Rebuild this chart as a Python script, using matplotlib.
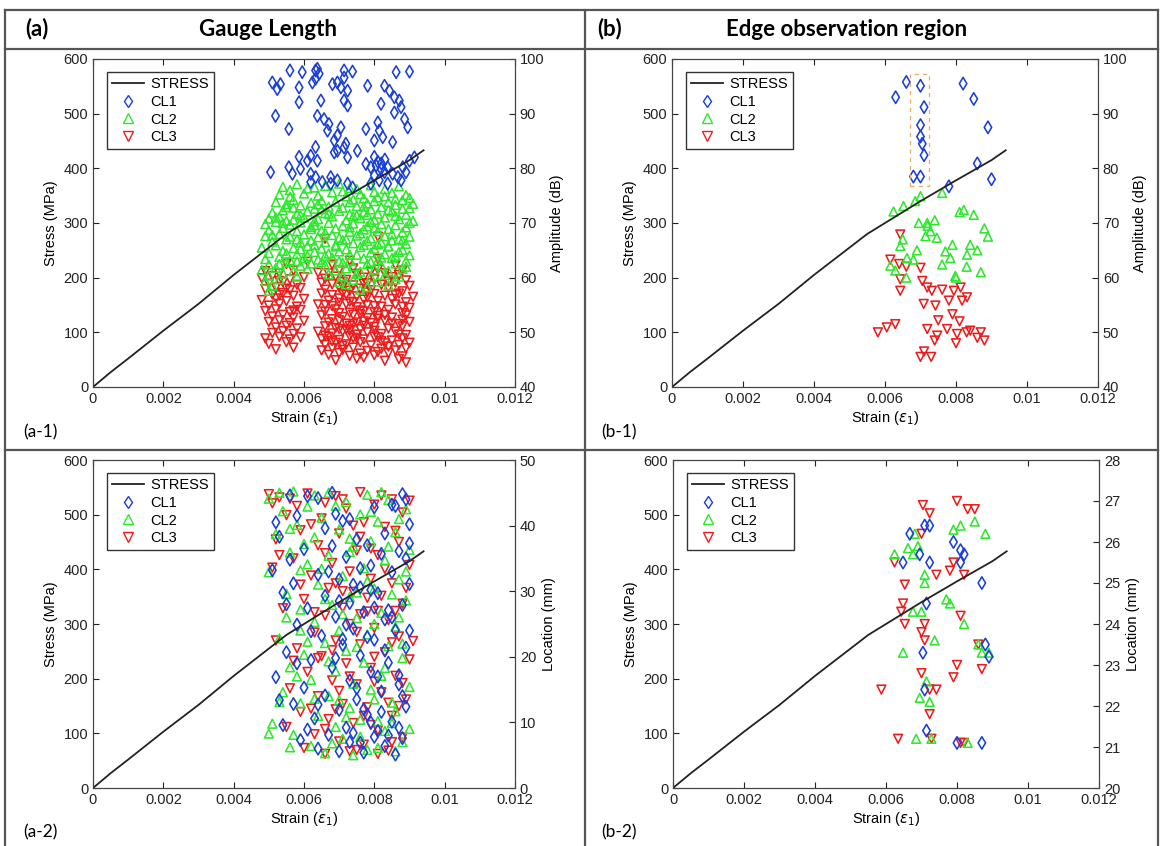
import matplotlib
import numpy as np
import matplotlib.pyplot as plt
from matplotlib.lines import Line2D
from matplotlib.patches import Rectangle

matplotlib.use('Agg')
plt.rcParams['font.family'] = ['Liberation Sans', 'DejaVu Sans']

# stress-strain curve (same in all panels)
strain_curve = [0, 0.0005, 0.001, 0.002, 0.003, 0.004, 0.005, 0.0055, 0.0058, 0.006, 0.007, 0.008, 0.009, 0.0094]
stress_curve = [0, 27, 52, 103, 152, 205, 255, 280, 292, 300, 340, 378, 415, 433]

xticks = [0, 0.002, 0.004, 0.006, 0.008, 0.01, 0.012]
xticklabels = ['0', '0.002', '0.004', '0.006', '0.008', '0.01', '0.012']

# (a-1) gauge length, amplitude (dB)
a1_cl1 = [(0.0056, 97.9), (0.00595, 97.6), (0.00633, 97.9), (0.00638, 98.2), (0.00643, 97.3), (0.00714, 97.9),
          (0.00738, 97.7), (0.00862, 97.6), (0.0090, 97.7), (0.00633, 96.4), (0.00714, 96.6), (0.0051, 95.7),
          (0.00533, 95.4), (0.00524, 94.5), (0.00586, 94.8), (0.00624, 95.7), (0.00681, 95.4), (0.00695, 95.7),
          (0.00705, 94.8), (0.00724, 94.2), (0.00781, 95.1), (0.00829, 95.1), (0.00843, 94.2), (0.00857, 93.0),
          (0.00871, 92.4), (0.00876, 91.2), (0.00714, 92.4), (0.00724, 91.5), (0.00648, 92.4), (0.00586, 92.1),
          (0.00819, 91.8), (0.00857, 90.2), (0.00886, 89.0), (0.00895, 87.5), (0.00519, 89.6), (0.00557, 87.2),
          (0.00638, 89.6), (0.00657, 89.0), (0.00671, 88.1), (0.00667, 86.9), (0.00705, 87.5), (0.00695, 86.0),
          (0.00686, 85.1), (0.00776, 87.2), (0.0081, 88.4), (0.00814, 86.9), (0.00824, 85.7), (0.0080, 85.1),
          (0.00852, 84.8), (0.00719, 84.5), (0.00633, 83.9), (0.00586, 82.1), (0.0061, 81.4), (0.00619, 82.3),
          (0.00638, 81.4), (0.00686, 82.9), (0.00695, 83.2), (0.00714, 83.8), (0.00724, 82.0), (0.00752, 83.2),
          (0.00557, 80.2), (0.0059, 79.9), (0.00505, 79.3), (0.00567, 79.0), (0.00619, 79.0), (0.00633, 78.4),
          (0.00652, 77.5), (0.00676, 78.4), (0.00695, 77.8), (0.00724, 77.2), (0.00776, 80.8), (0.0079, 80.2),
          (0.00805, 80.5), (0.00819, 79.9), (0.00829, 79.3), (0.00838, 80.2), (0.00852, 79.0), (0.00867, 78.4),
          (0.00881, 80.2), (0.0089, 79.3), (0.0090, 81.4), (0.00914, 82.0), (0.0080, 78.7), (0.00814, 77.8),
          (0.0079, 77.2), (0.00838, 77.2), (0.00876, 77.8), (0.00738, 76.5), (0.00619, 77.5), (0.00676, 77.2),
          (0.0081, 81.2), (0.0082, 80.9), (0.0083, 81.6), (0.0080, 82.1)]
a1_cl2 = [(0.0054, 76.6), (0.0058, 77.1), (0.0061, 76.3), (0.0066, 76.8), (0.0070, 77.2), (0.0073, 76.4), (0.0079, 76.9),
          (0.0083, 76.2), (0.0087, 76.7), (0.0053, 75.2), (0.0056, 74.8), (0.0060, 75.4), (0.0064, 75.0), (0.0068, 75.6),
          (0.0072, 74.9), (0.0076, 75.3), (0.0081, 74.7), (0.0085, 75.5), (0.0089, 75.1), (0.0052, 73.8), (0.0057, 74.2),
          (0.0062, 73.7), (0.0065, 74.1), (0.0069, 73.9), (0.0074, 74.3), (0.0078, 73.6), (0.0080, 74.0), (0.0084, 73.8),
          (0.0088, 74.2), (0.0091, 73.5), (0.0055, 72.9), (0.0059, 73.2), (0.0063, 72.6), (0.0067, 73.0), (0.0071, 72.8),
          (0.0075, 73.1), (0.0079, 72.5), (0.0082, 72.9), (0.0086, 73.3), (0.0090, 72.7), (0.0051, 71.9), (0.0054, 72.3),
          (0.0058, 71.7), (0.0061, 72.1), (0.0066, 71.8), (0.0070, 72.2), (0.0073, 71.6), (0.0077, 72.0), (0.0081, 71.7),
          (0.0085, 72.1), (0.0089, 71.5), (0.0050, 70.8), (0.0053, 71.1), (0.0057, 70.6), (0.0060, 71.0), (0.0064, 70.7),
          (0.0068, 71.2), (0.0072, 70.5), (0.0076, 70.9), (0.0080, 70.6), (0.0083, 71.0), (0.0087, 70.7), (0.0091, 70.4),
          (0.0049, 69.8), (0.0052, 70.2), (0.0056, 69.7), (0.0059, 70.1), (0.0063, 69.6), (0.0067, 70.0), (0.0071, 69.5),
          (0.0074, 69.9), (0.0078, 69.4), (0.0082, 69.8), (0.0086, 69.6), (0.0090, 70.0), (0.0050, 68.7), (0.0054, 69.1),
          (0.0058, 68.5), (0.0062, 68.9), (0.0065, 68.6), (0.0069, 69.0), (0.0073, 68.4), (0.0077, 68.8), (0.0081, 68.5),
          (0.0084, 68.9), (0.0088, 68.3), (0.0049, 67.6), (0.0053, 68.0), (0.0056, 67.5), (0.0060, 67.9), (0.0064, 67.4),
          (0.0068, 67.8), (0.0070, 67.3), (0.0075, 67.7), (0.0079, 67.2), (0.0083, 67.6), (0.0087, 67.1), (0.0090, 67.5),
          (0.0051, 66.6), (0.0055, 67.0), (0.0059, 66.4), (0.0062, 66.8), (0.0066, 66.5), (0.0071, 66.9), (0.0074, 66.3),
          (0.0078, 66.7), (0.0082, 66.4), (0.0085, 66.8), (0.0089, 66.2), (0.0048, 65.5), (0.0052, 65.9), (0.0057, 65.4),
          (0.0061, 65.8), (0.0065, 65.3), (0.0069, 65.7), (0.0072, 65.2), (0.0076, 65.6), (0.0080, 65.3), (0.0084, 65.7),
          (0.0088, 65.1), (0.0050, 64.5), (0.0054, 64.9), (0.0058, 64.3), (0.0063, 64.7), (0.0067, 64.4), (0.0070, 64.8),
          (0.0075, 64.2), (0.0079, 64.6), (0.0083, 64.3), (0.0087, 64.7), (0.0090, 64.1), (0.0049, 63.4), (0.0053, 63.8),
          (0.0056, 63.2), (0.0060, 63.6), (0.0064, 63.3), (0.0068, 63.7), (0.0073, 63.1), (0.0077, 63.5), (0.0081, 63.2),
          (0.0085, 63.6), (0.0089, 63.0), (0.0050, 62.4), (0.0055, 62.8), (0.0059, 62.2), (0.0062, 62.6), (0.0066, 62.3),
          (0.0071, 62.7), (0.0074, 62.1), (0.0078, 62.5), (0.0082, 62.2), (0.0086, 62.6), (0.0048, 61.4), (0.0052, 61.8),
          (0.0057, 61.2), (0.0061, 61.6), (0.0069, 61.3), (0.0072, 61.7), (0.0076, 61.1), (0.0080, 61.5), (0.0084, 61.2),
          (0.0088, 61.6), (0.0050, 60.4), (0.0054, 60.8), (0.0058, 60.2), (0.0067, 60.6), (0.0071, 60.3), (0.0075, 60.7),
          (0.0079, 60.1), (0.0083, 60.5), (0.0087, 60.2), (0.0049, 59.4), (0.0053, 59.7), (0.0070, 59.2), (0.0074, 59.6),
          (0.0081, 59.3), (0.0086, 59.7), (0.0051, 58.5), (0.0072, 58.8), (0.0078, 58.3), (0.0084, 58.6), (0.0050, 57.6),
          (0.0076, 57.8), (0.0063, 70.3), (0.0065, 72.5), (0.0069, 66.0), (0.0073, 69.2), (0.0077, 74.5), (0.0081, 66.1),
          (0.0085, 68.0), (0.0057, 72.8), (0.0055, 70.4), (0.0061, 64.0), (0.0075, 71.4), (0.0079, 70.2), (0.0083, 74.9),
          (0.0056, 76.0), (0.0063, 76.5), (0.0071, 75.8), (0.0075, 76.2), (0.0080, 75.7), (0.0086, 74.4), (0.0090, 74.6),
          (0.0055, 73.5), (0.0064, 73.4), (0.0073, 73.8), (0.0077, 73.0), (0.0084, 72.4), (0.0088, 72.6), (0.0052, 71.0),
          (0.0059, 71.4), (0.0067, 71.7), (0.0074, 71.2), (0.0078, 71.5), (0.0086, 71.3), (0.0054, 70.0), (0.0062, 69.3),
          (0.0066, 68.2), (0.0076, 68.1), (0.0080, 69.0), (0.0089, 69.2), (0.0051, 67.8), (0.0058, 67.0), (0.0063, 66.0),
          (0.0072, 67.0), (0.0077, 66.0), (0.0084, 65.8), (0.0088, 66.8), (0.0055, 64.4), (0.0059, 65.2), (0.0066, 64.0),
          (0.0073, 64.2), (0.0082, 63.7), (0.0086, 64.0), (0.0053, 62.5), (0.0058, 63.0), (0.0065, 62.8), (0.0070, 63.0),
          (0.0079, 62.9), (0.0089, 62.0)]
a1_cl3 = [(0.0055, 62.5), (0.0061, 62.9), (0.0068, 62.4), (0.0073, 63.1), (0.0086, 62.3), (0.0081, 63.4), (0.0066, 67.1),
          (0.0081, 67.5), (0.0049, 61.2), (0.0053, 60.8), (0.0057, 61.3), (0.0064, 60.9), (0.0070, 61.4), (0.0075, 60.7),
          (0.0079, 61.1), (0.0083, 60.8), (0.0088, 61.3), (0.0048, 59.9), (0.0051, 60.3), (0.0056, 59.7), (0.0060, 60.1),
          (0.0066, 59.8), (0.0069, 60.2), (0.0072, 59.6), (0.0077, 60.0), (0.0080, 59.7), (0.0085, 60.1), (0.0089, 59.5),
          (0.0050, 58.9), (0.0054, 59.2), (0.0058, 58.7), (0.0065, 59.1), (0.0068, 58.8), (0.0071, 59.2), (0.0074, 58.6),
          (0.0078, 59.0), (0.0082, 58.7), (0.0086, 59.1), (0.0090, 58.5), (0.0049, 57.9), (0.0052, 58.2), (0.0056, 57.7),
          (0.0059, 58.1), (0.0066, 57.8), (0.0070, 58.2), (0.0073, 57.6), (0.0076, 58.0), (0.0079, 57.7), (0.0084, 58.1),
          (0.0088, 57.5), (0.0051, 56.9), (0.0054, 57.2), (0.0057, 56.7), (0.0065, 57.1), (0.0068, 56.8), (0.0071, 57.2),
          (0.0075, 56.6), (0.0080, 57.0), (0.0083, 56.7), (0.0087, 57.1), (0.0091, 56.5), (0.0048, 55.9), (0.0052, 56.2),
          (0.0055, 55.7), (0.0060, 56.1), (0.0067, 55.8), (0.0070, 56.2), (0.0073, 55.6), (0.0077, 56.0), (0.0081, 55.7),
          (0.0085, 56.1), (0.0089, 55.5), (0.0050, 54.9), (0.0053, 55.2), (0.0058, 54.7), (0.0064, 55.1), (0.0068, 54.8),
          (0.0072, 55.2), (0.0075, 54.6), (0.0078, 55.0), (0.0082, 54.7), (0.0086, 55.1), (0.0090, 54.5), (0.0049, 53.9),
          (0.0052, 54.2), (0.0056, 53.7), (0.0059, 54.1), (0.0066, 53.8), (0.0069, 54.2), (0.0073, 53.6), (0.0076, 54.0),
          (0.0080, 53.7), (0.0084, 54.1), (0.0088, 53.5), (0.0051, 52.9), (0.0054, 53.2), (0.0057, 52.7), (0.0065, 53.1),
          (0.0071, 52.8), (0.0074, 53.2), (0.0078, 52.6), (0.0081, 53.0), (0.0085, 52.7), (0.0089, 53.1), (0.0050, 51.9),
          (0.0053, 52.2), (0.0056, 51.7), (0.0060, 52.1), (0.0067, 51.8), (0.0070, 52.2), (0.0072, 51.6), (0.0077, 52.0),
          (0.0079, 51.7), (0.0083, 52.1), (0.0087, 51.5), (0.0090, 51.9), (0.0052, 50.9), (0.0055, 51.2), (0.0058, 50.7),
          (0.0066, 51.1), (0.0069, 50.8), (0.0073, 51.2), (0.0076, 50.6), (0.0080, 51.0), (0.0084, 50.7), (0.0088, 51.1),
          (0.0051, 49.9), (0.0054, 50.2), (0.0057, 49.7), (0.0064, 50.1), (0.0068, 49.8), (0.0071, 50.2), (0.0075, 49.6),
          (0.0078, 50.0), (0.0082, 49.7), (0.0086, 50.1), (0.0089, 49.5), (0.0049, 48.9), (0.0053, 49.2), (0.0056, 48.7),
          (0.0059, 49.1), (0.0065, 48.8), (0.0067, 49.2), (0.0070, 48.6), (0.0074, 49.0), (0.0077, 48.7), (0.0081, 49.1),
          (0.0085, 48.5), (0.0088, 48.9), (0.0050, 47.9), (0.0055, 48.2), (0.0066, 47.7), (0.0069, 48.1), (0.0072, 47.8),
          (0.0076, 48.2), (0.0079, 47.6), (0.0083, 48.0), (0.0087, 47.7), (0.0090, 48.1), (0.0052, 46.9), (0.0057, 47.2),
          (0.0065, 46.7), (0.0068, 47.1), (0.0071, 46.8), (0.0074, 47.2), (0.0078, 46.6), (0.0082, 47.0), (0.0086, 46.7),
          (0.0089, 47.1), (0.0067, 45.9), (0.0070, 46.2), (0.0073, 45.7), (0.0076, 46.1), (0.0080, 45.8), (0.0084, 46.2),
          (0.0088, 45.6), (0.0069, 44.9), (0.0075, 45.2), (0.0083, 44.8), (0.0087, 45.1), (0.0089, 44.5), (0.0072, 50.5),
          (0.0074, 51.5), (0.0076, 53.3), (0.0070, 55.4), (0.0078, 57.3), (0.0080, 50.3), (0.0082, 48.4), (0.0073, 49.3),
          (0.0067, 60.8), (0.0074, 61.7), (0.0081, 61.5), (0.0087, 60.5), (0.0053, 59.4), (0.0071, 58.4), (0.0077, 58.9),
          (0.0084, 59.3), (0.0055, 58.0), (0.0072, 56.9), (0.0078, 56.4), (0.0086, 56.8), (0.0053, 56.8), (0.0066, 55.0),
          (0.0074, 55.5), (0.0080, 54.8), (0.0088, 54.7), (0.0057, 54.0), (0.0070, 53.5), (0.0077, 53.8), (0.0083, 53.2),
          (0.0068, 52.4), (0.0075, 51.8), (0.0081, 52.5), (0.0088, 52.3), (0.0070, 50.6), (0.0077, 51.2), (0.0085, 51.6),
          (0.0066, 49.4), (0.0073, 50.4), (0.0080, 49.2), (0.0087, 49.6), (0.0068, 48.4), (0.0075, 48.9), (0.0084, 47.4),
          (0.0071, 47.5), (0.0077, 45.4), (0.0081, 46.4)]

# (b-1) edge observation region, amplitude (dB)
b1_cl1 = [(0.0063, 93.0), (0.0066, 95.8), (0.0070, 95.1), (0.0071, 91.2), (0.0070, 87.9), (0.0070, 85.8), (0.00705, 84.5),
          (0.0071, 82.4), (0.0068, 78.5), (0.0070, 78.5), (0.0078, 76.7), (0.0082, 95.5), (0.0085, 92.7), (0.0086, 80.9),
          (0.0089, 87.5), (0.0090, 78.0)]
b1_cl2 = [(0.00624, 72.1), (0.00652, 73.1), (0.00685, 74.0), (0.0070, 74.9), (0.00761, 75.5), (0.00822, 72.4),
          (0.0085, 71.5), (0.00695, 70.0), (0.00719, 70.0), (0.00728, 68.5), (0.00746, 67.3), (0.00714, 67.6),
          (0.00643, 65.8), (0.00662, 63.6), (0.0068, 63.3), (0.0077, 64.8), (0.00784, 63.6), (0.00761, 62.4),
          (0.00831, 64.2), (0.0084, 66.0), (0.00615, 62.2), (0.00629, 61.3), (0.00798, 60.3), (0.0081, 72.0),
          (0.0088, 69.0), (0.0089, 67.5), (0.0086, 65.0), (0.0087, 61.0), (0.0074, 70.5), (0.0079, 66.0),
          (0.0069, 65.0), (0.0080, 60.0), (0.0066, 60.0), (0.0072, 69.5), (0.0083, 62.0), (0.0065, 67.0)]
b1_cl3 = [(0.00643, 67.9), (0.00615, 63.3), (0.0070, 61.8), (0.00643, 59.7), (0.00705, 59.4), (0.00719, 58.2),
          (0.00732, 57.6), (0.00761, 57.8), (0.00794, 57.6), (0.00813, 58.2), (0.00831, 56.4), (0.00643, 57.6),
          (0.00709, 55.2), (0.00742, 54.9), (0.0078, 55.8), (0.00817, 55.8), (0.0075, 52.2), (0.0079, 53.3),
          (0.00605, 50.9), (0.00629, 51.5), (0.00719, 50.6), (0.00747, 49.4), (0.00775, 50.6), (0.00803, 49.7),
          (0.0084, 50.3), (0.0058, 50.0), (0.0070, 45.5), (0.0071, 46.5), (0.0073, 45.5), (0.0074, 48.5),
          (0.0080, 48.0), (0.0083, 50.0), (0.0086, 49.0), (0.0087, 50.0), (0.0081, 52.0), (0.0066, 62.0),
          (0.0064, 62.5), (0.0088, 48.5)]

# (a-2) gauge length, location (mm)
a2_cl1 = [(0.0061, 44.5), (0.0064, 44.2), (0.0088, 44.8), (0.0089, 44.0), (0.0085, 43.2), (0.0080, 42.8), (0.0058, 41.5),
          (0.0071, 40.7), (0.0090, 40.2), (0.0066, 39.6), (0.0053, 38.3), (0.0075, 37.9), (0.0083, 38.8), (0.0060, 36.4),
          (0.0068, 36.9), (0.0087, 36.1), (0.0056, 34.8), (0.0072, 35.2), (0.0079, 33.9), (0.0051, 33.2), (0.0064, 32.5),
          (0.0085, 32.9), (0.0057, 31.2), (0.0070, 31.8), (0.0076, 30.6), (0.0090, 31.1), (0.0054, 29.8), (0.0066, 29.3),
          (0.0081, 29.7), (0.0073, 28.2), (0.0088, 27.9), (0.0061, 27.4), (0.0077, 26.8), (0.0069, 26.1), (0.0083, 25.7),
          (0.0058, 24.9), (0.0074, 24.3), (0.0086, 24.0), (0.0065, 23.2), (0.0080, 22.6), (0.0071, 21.8), (0.0089, 21.4),
          (0.0055, 20.7), (0.0076, 20.2), (0.0062, 19.5), (0.0084, 19.1), (0.0068, 18.4), (0.0079, 17.7), (0.0052, 16.9),
          (0.0073, 16.4), (0.0087, 15.8), (0.0060, 15.3), (0.0082, 14.7), (0.0066, 14.1), (0.0075, 13.5), (0.0057, 12.8),
          (0.0089, 12.4), (0.0070, 11.9), (0.0078, 11.2), (0.0063, 10.6), (0.0085, 10.1), (0.0054, 9.6), (0.0072, 9.2),
          (0.0081, 8.7), (0.0067, 8.1), (0.0088, 7.6), (0.0059, 7.3), (0.0076, 6.9), (0.0083, 6.4), (0.0064, 6.0),
          (0.0070, 5.6), (0.0086, 5.1), (0.0080, 7.8), (0.0074, 8.4), (0.0077, 12.0), (0.0071, 22.7), (0.0079, 30.2),
          (0.0082, 35.7), (0.0069, 41.8), (0.0056, 44.6), (0.0062, 23.9), (0.0087, 17.2), (0.0084, 27.1), (0.0090, 37.3),
          (0.0053, 13.4), (0.0086, 43.0), (0.0073, 41.0), (0.0078, 37.0), (0.0089, 35.0), (0.0067, 33.0), (0.0074, 31.0),
          (0.0080, 27.5), (0.0085, 26.0), (0.0072, 24.9), (0.0078, 23.0), (0.0083, 21.0), (0.0069, 19.8), (0.0081, 17.0),
          (0.0075, 15.2), (0.0088, 14.0), (0.0064, 12.7), (0.0079, 10.0), (0.0084, 8.0), (0.0073, 7.0), (0.0077, 5.4),
          (0.0082, 11.6), (0.0087, 9.2), (0.0061, 8.9), (0.0058, 19.0), (0.0055, 28.0), (0.0052, 40.5), (0.0068, 45.0),
          (0.0090, 24.0), (0.0076, 33.5), (0.0070, 28.5)]
a2_cl2 = [(0.0057, 45.2), (0.0067, 45.0), (0.0078, 44.7), (0.0050, 44.1), (0.0072, 43.6), (0.0084, 43.9), (0.0061, 42.9),
          (0.0054, 42.2), (0.0089, 42.5), (0.0076, 41.7), (0.0065, 41.2), (0.0081, 40.6), (0.0058, 40.1), (0.0070, 39.4),
          (0.0086, 39.0), (0.0052, 38.7), (0.0063, 38.2), (0.0079, 37.6), (0.0074, 36.8), (0.0090, 36.3), (0.0056, 35.9),
          (0.0067, 35.4), (0.0083, 34.7), (0.0061, 34.1), (0.0077, 33.5), (0.0050, 32.9), (0.0071, 32.3), (0.0087, 31.8),
          (0.0064, 31.0), (0.0080, 30.4), (0.0055, 29.6), (0.0073, 29.1), (0.0089, 28.6), (0.0068, 27.9), (0.0059, 27.2),
          (0.0082, 26.7), (0.0075, 25.9), (0.0063, 25.3), (0.0086, 24.6), (0.0070, 24.0), (0.0078, 23.4), (0.0053, 22.8),
          (0.0066, 22.1), (0.0084, 21.6), (0.0072, 20.9), (0.0060, 20.3), (0.0088, 19.8), (0.0077, 19.1), (0.0056, 18.4),
          (0.0069, 17.8), (0.0082, 17.1), (0.0062, 16.5), (0.0074, 15.9), (0.0090, 15.4), (0.0054, 14.6), (0.0067, 14.0),
          (0.0080, 13.5), (0.0059, 12.9), (0.0073, 12.2), (0.0086, 11.7), (0.0064, 11.0), (0.0076, 10.4), (0.0051, 9.8),
          (0.0069, 9.3), (0.0083, 8.7), (0.0057, 8.1), (0.0071, 7.5), (0.0088, 7.0), (0.0062, 6.4), (0.0078, 5.8),
          (0.0066, 5.3), (0.0074, 5.0), (0.0050, 8.3), (0.0081, 6.1), (0.0085, 9.9), (0.0058, 17.0), (0.0053, 13.1),
          (0.0087, 26.0), (0.0065, 33.4), (0.0079, 42.1), (0.0060, 37.2), (0.0075, 29.8), (0.0070, 13.4), (0.0083, 18.3),
          (0.0055, 26.0), (0.0089, 33.0), (0.0053, 45.0), (0.0063, 44.6), (0.0082, 45.1), (0.0069, 43.0), (0.0087, 41.0),
          (0.0056, 39.5), (0.0073, 38.0), (0.0084, 36.8), (0.0059, 33.2), (0.0078, 31.5), (0.0066, 28.8), (0.0085, 29.5),
          (0.0071, 26.5), (0.0080, 25.0), (0.0061, 22.3), (0.0075, 21.5), (0.0088, 22.0), (0.0067, 19.3), (0.0079, 15.0),
          (0.0085, 13.0), (0.0063, 13.6), (0.0072, 10.8), (0.0081, 10.2), (0.0056, 6.2), (0.0068, 6.8), (0.0076, 7.8),
          (0.0086, 5.6), (0.0090, 9.0), (0.0059, 24.0), (0.0073, 36.0)]
a2_cl3 = [(0.0050, 44.8), (0.0053, 44.3), (0.0061, 44.9), (0.0076, 45.1), (0.0069, 44.5), (0.0085, 44.0), (0.0051, 43.4),
          (0.0058, 43.0), (0.0072, 42.6), (0.0080, 43.2), (0.0088, 42.0), (0.0055, 41.6), (0.0065, 41.1), (0.0077, 40.5),
          (0.0083, 39.8), (0.0059, 39.3), (0.0070, 38.8), (0.0052, 37.9), (0.0087, 37.5), (0.0064, 37.0), (0.0075, 36.2),
          (0.0081, 35.5), (0.0057, 35.0), (0.0068, 34.3), (0.0090, 34.0), (0.0051, 33.6), (0.0073, 33.0), (0.0062, 32.4),
          (0.0079, 31.9), (0.0085, 31.2), (0.0067, 30.5), (0.0074, 29.9), (0.0082, 29.3), (0.0060, 28.8), (0.0088, 28.1),
          (0.0071, 27.5), (0.0078, 26.9), (0.0066, 26.3), (0.0084, 25.6), (0.0052, 22.5), (0.0073, 25.0), (0.0080, 24.4),
          (0.0063, 23.7), (0.0087, 23.1), (0.0069, 22.5), (0.0076, 21.9), (0.0058, 21.3), (0.0083, 20.7), (0.0065, 20.1),
          (0.0090, 19.6), (0.0072, 19.0), (0.0079, 18.3), (0.0061, 17.7), (0.0086, 17.1), (0.0068, 16.4), (0.0075, 15.8),
          (0.0056, 15.2), (0.0082, 14.6), (0.0064, 14.0), (0.0089, 13.5), (0.0071, 12.8), (0.0078, 12.3), (0.0059, 11.6),
          (0.0085, 11.0), (0.0067, 10.5), (0.0074, 9.9), (0.0055, 9.3), (0.0081, 8.8), (0.0063, 8.2), (0.0088, 7.7),
          (0.0070, 7.1), (0.0077, 6.6), (0.0060, 6.1), (0.0084, 5.7), (0.0066, 5.2), (0.0073, 5.6), (0.0057, 19.4),
          (0.0054, 27.4), (0.0086, 27.0), (0.0062, 12.1), (0.0080, 16.2), (0.0091, 22.4), (0.0069, 31.2), (0.0076, 38.3),
          (0.0071, 44.0), (0.0087, 12.5), (0.0064, 19.8), (0.0079, 9.6), (0.0056, 44.1), (0.0066, 43.5), (0.0082, 44.6),
          (0.0090, 43.8), (0.0062, 40.2), (0.0074, 40.0), (0.0086, 39.2), (0.0079, 36.5), (0.0066, 35.8), (0.0083, 33.4),
          (0.0071, 30.0), (0.0078, 29.0), (0.0063, 26.8), (0.0081, 27.0), (0.0075, 23.8), (0.0085, 22.2), (0.0068, 21.0),
          (0.0080, 20.0), (0.0073, 17.0), (0.0088, 16.0), (0.0070, 14.8), (0.0084, 13.0), (0.0077, 11.0), (0.0066, 9.0),
          (0.0085, 7.0), (0.0075, 5.8), (0.0081, 5.2), (0.0069, 12.0), (0.0059, 31.0), (0.0053, 35.5), (0.0089, 30.5),
          (0.0076, 26.5)]

# (b-2) edge observation region, location (mm)
b2_cl1 = [(0.00667, 26.2), (0.00648, 25.5), (0.00695, 25.7), (0.00723, 25.5), (0.00714, 24.5), (0.00704, 23.3),
          (0.00709, 22.4), (0.00714, 21.4), (0.00709, 26.4), (0.00723, 26.4), (0.0079, 26.0), (0.0081, 25.8),
          (0.0082, 25.7), (0.0087, 25.0), (0.0088, 23.5), (0.0089, 23.2), (0.0087, 21.1), (0.0080, 21.1), (0.0081, 25.5)]
b2_cl2 = [(0.00624, 25.7), (0.00662, 25.85), (0.0069, 25.9), (0.00676, 25.7), (0.00709, 25.2), (0.00709, 25.0),
          (0.00676, 24.3), (0.0070, 24.3), (0.00648, 23.3), (0.00737, 23.6), (0.00695, 22.2), (0.00723, 22.1),
          (0.00714, 22.6), (0.00685, 21.2), (0.00728, 21.2), (0.00681, 26.2), (0.0079, 26.3), (0.0081, 26.4),
          (0.0085, 26.5), (0.0088, 26.2), (0.0078, 24.5), (0.0082, 24.0), (0.0086, 23.5), (0.0087, 23.3),
          (0.0089, 23.3), (0.0083, 21.1), (0.0077, 24.6)]
b2_cl3 = [(0.00587, 22.4), (0.00634, 21.2), (0.00653, 24.96), (0.00648, 24.5), (0.00643, 24.3), (0.00653, 24.0),
          (0.00704, 26.9), (0.00723, 26.7), (0.0070, 26.2), (0.0070, 23.8), (0.00709, 24.0), (0.00709, 23.6),
          (0.0070, 22.8), (0.00723, 21.8), (0.00728, 21.2), (0.00723, 22.4), (0.00742, 25.2), (0.00742, 22.4),
          (0.00624, 25.5), (0.0080, 27.0), (0.0083, 26.8), (0.0085, 26.8), (0.0079, 25.5), (0.0082, 25.2),
          (0.0080, 23.0), (0.0079, 22.7), (0.0081, 24.2), (0.0086, 23.5), (0.0082, 21.1), (0.0081, 21.1),
          (0.0078, 25.3), (0.0087, 22.9)]

blue = '#1a3fd8'
green = '#2ee82e'
red = '#ee1c1c'

W, H = 1160, 846
fig = plt.figure(figsize=(W / 100, H / 100), dpi=100)


def frac(x0, y0, x1, y1):
    # pixel box -> figure fraction [left, bottom, width, height]
    return [x0 / W, 1 - y1 / H, (x1 - x0) / W, (y1 - y0) / H]


def panel(rect, cl1, cl2, cl3, rlim, rticks, rlabel):
    ax = fig.add_axes(rect)
    ax2 = ax.twinx()
    for pts, m, c in [(cl3, 'v', red), (cl2, '^', green), (cl1, 'd', blue)]:
        x = [p[0] for p in pts]
        y = [p[1] for p in pts]
        ax2.scatter(x, y, marker=m, s=40, facecolors='none', edgecolors=c, linewidths=1.15)
    ax.plot(strain_curve, stress_curve, color='#222222', lw=1.3)
    ax.set_zorder(ax2.get_zorder() + 1)
    ax.patch.set_visible(False)

    ax.set_xlim(0, 0.012)
    ax.set_ylim(0, 600)
    ax.set_xticks(xticks)
    ax.set_xticklabels(xticklabels)
    ax.set_yticks([0, 100, 200, 300, 400, 500, 600])
    ax2.set_ylim(*rlim)
    ax2.set_yticks(rticks)
    ax.tick_params(direction='in', top=True, labelsize=10.5, length=4, colors='#222222')
    ax2.tick_params(direction='in', labelsize=10.5, length=4, colors='#222222')
    for a in (ax, ax2):
        for s in a.spines.values():
            s.set_color('#444444')
    ax.set_xlabel('Strain ($\\epsilon_1$)', fontsize=10.5, labelpad=2)
    ax.set_ylabel('Stress (MPa)', fontsize=10.5, labelpad=4)
    ax2.set_ylabel(rlabel, fontsize=10.5, labelpad=4)

    handles = [Line2D([], [], color='#222222', lw=1.3),
               Line2D([], [], ls='none', marker='d', mfc='none', mec=blue, ms=6.5),
               Line2D([], [], ls='none', marker='^', mfc='none', mec=green, ms=6.5),
               Line2D([], [], ls='none', marker='v', mfc='none', mec=red, ms=6.5)]
    leg = ax.legend(handles, ['STRESS', 'CL1', 'CL2', 'CL3'], loc='upper left', bbox_to_anchor=(0.033, 0.96),
                    borderaxespad=0, fancybox=False, framealpha=1, edgecolor='#333333', fontsize=10.5,
                    handlelength=2.2, handletextpad=0.4, labelspacing=0.25, borderpad=0.35)
    leg.get_frame().set_linewidth(1.0)
    return ax, ax2


ax_a1, ax_a1r = panel(frac(93, 59, 515, 387), a1_cl1, a1_cl2, a1_cl3, (40, 100), [40, 50, 60, 70, 80, 90, 100],
                      'Amplitude (dB)')
ax_b1, ax_b1r = panel(frac(672, 59, 1098, 387), b1_cl1, b1_cl2, b1_cl3, (40, 100), [40, 50, 60, 70, 80, 90, 100],
                      'Amplitude (dB)')
ax_a2, ax_a2r = panel(frac(93, 460, 515, 788), a2_cl1, a2_cl2, a2_cl3, (0, 50), [0, 10, 20, 30, 40, 50],
                      'Location (mm)')
ax_b2, ax_b2r = panel(frac(673, 460, 1099, 788), b2_cl1, b2_cl2, b2_cl3, (20, 28), [20, 21, 22, 23, 24, 25, 26, 27, 28],
                      'Location (mm)')

# dashed box marking the vertical CL1 column in (b-1)
ax_b1.add_patch(Rectangle((0.0067, 368), 0.00055, 204, fill=False, ec='#e8b070', lw=1.0, ls=(0, (3, 3))))

# table frame
for (x0, y0, x1, y1) in [(5, 10, 1158, 10), (5, 49, 1158, 49), (5, 10, 5, 846), (585, 10, 585, 846),
                         (5, 450, 1158, 450), (1158, 10, 1158, 846)]:
    fig.add_artist(Line2D([x0 / W, x1 / W], [1 - y0 / H, 1 - y1 / H], transform=fig.transFigure,
                          color='#555555', lw=1.6))

hfont = ['Lato', 'DejaVu Sans']
fig.text(25 / W, 1 - 29 / H, '(a)', fontsize=16, fontweight='bold', family=hfont, va='center')
fig.text(268 / W, 1 - 29 / H, 'Gauge Length', fontsize=16, fontweight='bold', family=hfont, va='center', ha='center')
fig.text(597 / W, 1 - 29 / H, '(b)', fontsize=16, fontweight='bold', family=hfont, va='center')
fig.text(847 / W, 1 - 29 / H, 'Edge observation region', fontsize=16, fontweight='bold', family=hfont,
         va='center', ha='center')
for label, x, y in [('(a-1)', 23, 432), ('(b-1)', 601, 432), ('(a-2)', 23, 832), ('(b-2)', 601, 832)]:
    fig.text(x / W, 1 - y / H, label, fontsize=12.5, family=hfont, va='center')

fig.savefig('out.png', dpi=100)
